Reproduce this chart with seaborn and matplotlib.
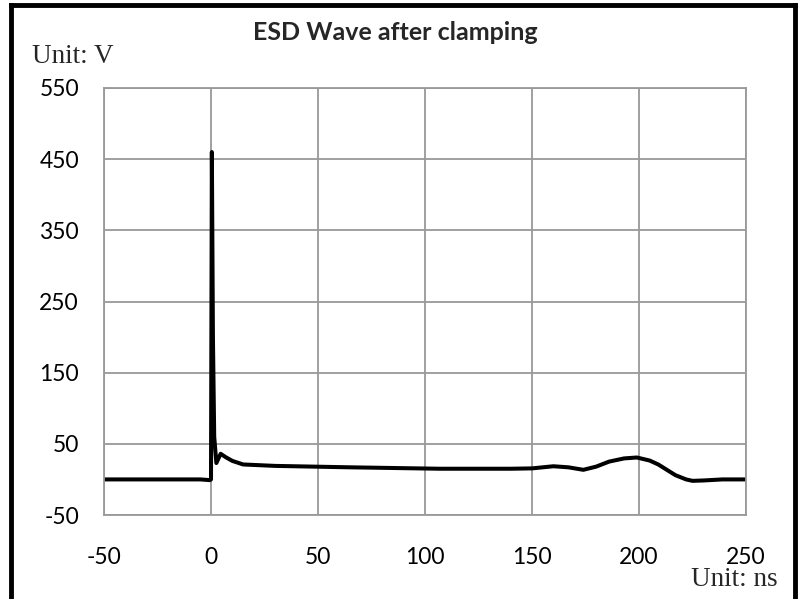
import matplotlib
matplotlib.use("Agg")
import matplotlib.pyplot as plt
import seaborn as sns
import pandas as pd

# Data (time in ns, voltage in V)
time_ns = [-50, -5, -0.5, 0, 0.4, 0.9, 1.5, 2.5, 4.5, 7, 10, 15, 30, 65, 107, 140,
           150, 160, 167, 174, 180, 186, 193, 199, 205, 209, 213, 217, 222, 225,
           230, 239, 250]
voltage_v = [0, 0, -1, 0, 460, 200, 60, 23, 36, 31, 26, 21, 19, 17, 15, 15,
             15.5, 18.5, 17, 13.5, 18, 25, 29.5, 30.8, 26.5, 21, 13.5, 6, 0, -2,
             -1.5, 0, 0]

x_ticks = [-50, 0, 50, 100, 150, 200, 250]
y_ticks = [-50, 50, 150, 250, 350, 450, 550]
title = "ESD Wave after clamping"
y_unit = "Unit: V"
x_unit = "Unit: ns"

df = pd.DataFrame({"t": time_ns, "v": voltage_v})

sns.set_theme(style="white")
plt.rcParams["font.family"] = ["Lato", "DejaVu Sans"]
plt.rcParams["axes.unicode_minus"] = False

fig = plt.figure(figsize=(8.02, 5.99), dpi=100)
ax = fig.add_axes([104 / 802, 1 - 515 / 599, (746 - 104) / 802, (515 - 88) / 599])

sns.lineplot(data=df, x="t", y="v", ax=ax, color="black", linewidth=2.9,
             sort=False, estimator=None)

ax.set_xlim(-50, 250)
ax.set_ylim(-50, 550)
ax.set_xticks(x_ticks)
ax.set_yticks(y_ticks)
ax.set_xticklabels([str(v) for v in x_ticks])
ax.set_yticklabels([str(v) for v in y_ticks])
ax.grid(True, color="#999999", linewidth=1.3)
for s in ax.spines.values():
    s.set_color("#999999")
    s.set_linewidth(1.3)
ax.tick_params(axis="both", length=0, labelsize=16.5, colors="black")
ax.tick_params(axis="x", pad=23)
ax.tick_params(axis="y", pad=18)
ax.set_xlabel("")
ax.set_ylabel("")

fig.text(395 / 802, 1 - 40 / 599, title, ha="center", va="baseline",
         fontsize=18, fontweight="bold")
fig.text(32 / 802, 1 - 63 / 599, y_unit, ha="left", va="baseline",
         fontsize=19.5, family="Liberation Serif")
fig.text(778 / 802, 1 - 586 / 599, x_unit, ha="right", va="baseline",
         fontsize=19.5, family="Liberation Serif")

# figure border (open at the bottom)
for xs, ys in [([10.5 / 802, 10.5 / 802], [0, 1 - 5 / 599]),
               ([795 / 802, 795 / 802], [0, 1 - 5 / 599]),
               ([10.5 / 802, 795 / 802], [1 - 5 / 599, 1 - 5 / 599])]:
    fig.add_artist(plt.Line2D(xs, ys, transform=fig.transFigure, color="black",
                              linewidth=3.5, solid_capstyle="projecting"))

fig.savefig("out.png", dpi=100)
